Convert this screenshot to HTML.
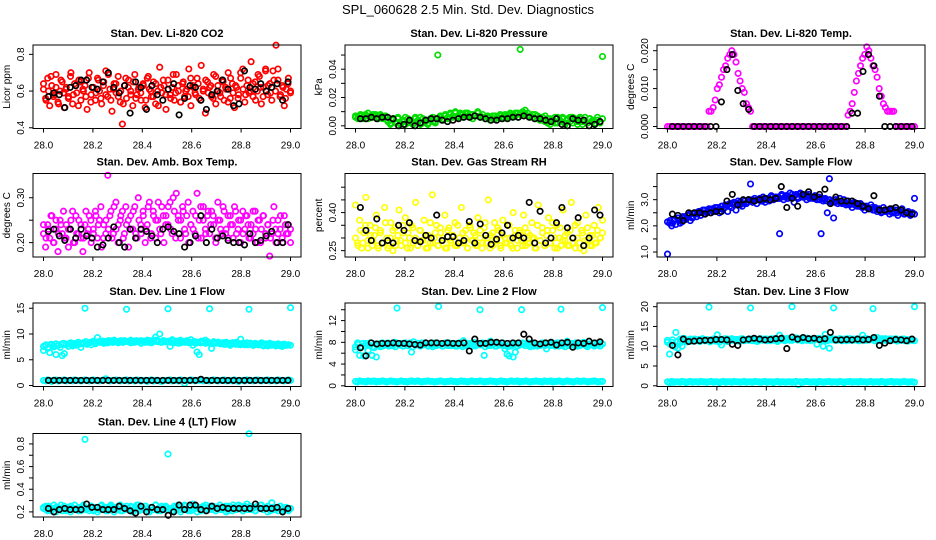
<!DOCTYPE html>
<html><head><meta charset="utf-8">
<style>
html,body{margin:0;padding:0;background:#fff;}
svg{display:block;font-family:"Liberation Sans",Arial,sans-serif;}
</style></head>
<body>
<svg id="chart" width="936" height="540" viewBox="0 0 936 540" xmlns="http://www.w3.org/2000/svg">
<text x="468" y="14" text-anchor="middle" font-size="13">SPL_060628  2.5 Min. Std. Dev. Diagnostics</text>
</svg>
<script>
// ---- data ----
const xTicks = [28.0, 28.2, 28.4, 28.6, 28.8, 29.0];
const xTickLabels = ["28.0", "28.2", "28.4", "28.6", "28.8", "29.0"];

const co2Values = [0.61,0.56,0.67,0.52,0.63,0.58,0.69,0.54,0.60,0.65,0.51,0.62,0.57,0.68,0.53,0.64,0.59,0.66,0.55,0.61,
0.63,0.50,0.70,0.58,0.62,0.55,0.67,0.60,0.53,0.65,0.71,0.57,0.61,0.49,0.64,0.59,0.68,0.54,0.42,0.63,
0.56,0.66,0.60,0.52,0.69,0.58,0.62,0.55,0.64,0.51,0.67,0.61,0.57,0.65,0.53,0.60,0.73,0.59,0.63,0.50,
0.66,0.58,0.62,0.55,0.69,0.60,0.54,0.64,0.57,0.61,0.72,0.52,0.63,0.59,0.67,0.56,0.74,0.60,0.48,0.65,
0.62,0.57,0.69,0.53,0.63,0.59,0.66,0.55,0.61,0.70,0.56,0.64,0.51,0.62,0.58,0.67,0.72,0.54,0.63,0.59,
0.76,0.57,0.65,0.60,0.68,0.53,0.62,0.71,0.58,0.64,0.55,0.66,0.85,0.72,0.57,0.63,0.52,0.61,0.67,0.59];
const co2Values2 = [0.64,0.55,0.60,0.68,0.57,0.62,0.53,0.66,0.59,0.61,0.56,0.70,0.58,0.63,0.52,0.65,0.60,0.57,0.67,0.54,
0.62,0.59,0.66,0.56,0.63,0.58,0.69,0.55,0.61,0.64,0.57,0.60,0.53,0.67,0.62,0.58,0.65,0.56,0.61,0.59,
0.63,0.55,0.68,0.60,0.57,0.64,0.52,0.62,0.66,0.58,0.61,0.56,0.69,0.59,0.63,0.54,0.65,0.60,0.57,0.67,
0.62,0.58,0.64,0.55,0.61,0.66,0.59,0.63,0.56,0.68,0.60,0.57,0.65,0.62,0.54,0.67,0.59,0.63,0.56,0.70,
0.61,0.58,0.66,0.60,0.64,0.55,0.69,0.62,0.57,0.72,0.63,0.59,0.71,0.60,0.66,0.58,0.62,0.56,0.64,0.60];
const co2Hourly = [0.57,0.59,0.58,0.51,0.62,0.63,0.66,0.66,0.62,0.61,0.65,0.70,0.62,0.59,0.63,0.48,0.65,0.62,0.50,0.63,0.58,0.55,0.61,0.64,0.47,0.56,0.63,0.62,0.55,0.50,0.58,0.60,0.66,0.61,0.52,0.53,0.71,0.62,0.61,0.64,0.60,0.62,0.64,0.55,0.65];

const presValues = [0.006,0.005,0.007,0.006,0.008,0.005,0.007,0.006,0.008,0.006,0.007,0.005,0.006,
0.003,0.001,0.004,0.002,0.005,0.001,0.003,0.006,0.002,0.004,0.001,0.005,0.003,0.006,0.002,0.004,0.001,0.005,0.003,0.002,0.050,
0.006,0.004,0.007,0.005,0.008,0.006,0.009,0.007,0.008,0.006,0.009,0.007,0.008,0.005,0.007,0.009,0.006,0.008,0.005,0.006,0.004,0.007,0.005,0.006,0.008,0.005,0.007,0.006,0.008,0.007,0.009,0.006,0.054,
0.009,0.011,0.007,0.006,0.008,0.005,0.007,0.004,0.006,0.003,0.005,0.001,0.004,0.002,0.006,0.003,0.005,0.001,0.004,0.006,0.002,0.005,0.003,0.006,0.001,0.004,0.002,0.005,0.003,0.001,0.004,0.002,0.049];
const presValues2 = [0.007,0.006,0.008,0.005,0.007,0.009,0.006,0.008,0.007,0.005,0.008,0.006,0.007,
0.004,0.002,0.005,0.003,0.006,0.002,0.004,0.001,0.005,0.003,0.002,0.006,0.004,0.001,0.005,0.003,0.002,0.004,0.006,0.003,0.005,
0.007,0.005,0.008,0.006,0.009,0.007,0.010,0.006,0.009,0.008,0.007,0.009,0.006,0.008,0.007,0.010,0.007,0.006,0.005,0.007,0.006,0.005,0.007,0.006,0.007,0.006,0.008,0.007,0.009,0.008,0.007,0.009,0.008,
0.010,0.008,0.009,0.007,0.006,0.008,0.005,0.006,0.004,0.007,0.002,0.005,0.003,0.006,0.002,0.004,0.006,0.002,0.005,0.003,0.006,0.004,0.001,0.005,0.003,0.006,0.002,0.005,0.004,0.002,0.006,0.003,0.005];
const presHourly = [0.005,0.005,0.006,0.005,0.006,0.006,0.005,0.000,0.001,0.004,0.000,0.002,0.004,0.005,0.005,0.004,0.003,0.004,0.005,0.006,0.006,0.007,0.006,0.005,0.004,0.004,0.005,0.005,0.006,0.006,0.007,0.006,0.005,0.005,0.004,0.003,0.005,0.001,0.000,0.005,0.004,0.004,0.000,0.001,0.003];

const tempValues = [0,0,0,0,0,0,0,0,0,0,0,0,0,0,0,0,0,0,0,0,
0.004,0.004,0.005,0.007,0.010,0.011,0.013,0.015,0.016,0.018,0.019,0.020,
0.019,0.017,0.014,0.012,0.010,0.009,0.006,0.005,0.004,
0,0,0,0,0,0,0,0,0,0,0,0,0,0,0,0,0,0,0,0,0,0,0,0,0,0,0,0,0,0,0,0,0,0,0,0,0,0,0,0,0,0,0,0,0,0,
0.003,0.004,0.006,0.009,0.012,0.014,0.016,0.018,0.019,0.021,
0.020,0.018,0.016,0.015,0.013,0.010,0.008,0.006,0.005,0.004,0.004,0.004,0.004,
0,0,0,0,0,0,0,0,0,0];
const tempHourly = [0,0,0,0,0,0,0,0,0,0.0065,0.015,0.019,0.0095,0.006,0.0045,0,0,0,0,0,0,0,0,0,0,0,0,0,0,0,0,0,0,0.0035,0.0035,0.0145,0.019,0.016,0.008,0,0,0,0,0,0];

const ambValues = [0.22,0.19,0.24,0.21,0.26,0.20,0.23,0.18,0.25,0.22,0.21,0.24,0.19,0.23,0.27,0.20,0.22,0.25,0.21,0.18,
0.24,0.22,0.26,0.20,0.23,0.27,0.21,0.25,0.19,0.24,0.22,0.35,0.26,0.21,0.28,0.23,0.20,0.25,0.27,0.22,
0.24,0.19,0.26,0.23,0.28,0.21,0.25,0.22,0.27,0.20,0.24,0.29,0.22,0.26,0.21,0.25,0.23,0.28,0.20,0.26,
0.24,0.29,0.22,0.27,0.31,0.25,0.21,0.28,0.23,0.26,0.20,0.24,0.27,0.22,0.31,0.25,0.21,0.28,0.23,0.26,
0.22,0.27,0.24,0.20,0.29,0.25,0.22,0.27,0.23,0.21,0.26,0.24,0.28,0.22,0.25,0.20,0.27,0.23,0.26,0.21,
0.24,0.22,0.27,0.20,0.25,0.23,0.26,0.21,0.24,0.17,0.22,0.28,0.20,0.25,0.23,0.21,0.26,0.22,0.24,0.20];
const ambValues2 = [0.24,0.21,0.23,0.26,0.20,0.25,0.22,0.24,0.27,0.21,0.23,0.25,0.20,0.26,0.22,0.24,0.21,0.27,0.23,0.25,
0.22,0.26,0.24,0.28,0.21,0.25,0.23,0.27,0.22,0.29,0.24,0.26,0.21,0.28,0.25,0.23,0.27,0.22,0.30,0.24,
0.26,0.23,0.28,0.21,0.27,0.25,0.29,0.22,0.26,0.24,0.28,0.23,0.30,0.21,0.26,0.25,0.27,0.22,0.29,0.24,
0.23,0.26,0.21,0.28,0.25,0.22,0.27,0.24,0.26,0.21,0.25,0.23,0.28,0.22,0.26,0.24,0.21,0.27,0.23,0.25,
0.22,0.26,0.24,0.21,0.27,0.23,0.25,0.20,0.26,0.22,0.24,0.21,0.25,0.23,0.22,0.26,0.20,0.24,0.22,0.23];
const ambHourly = [0.225,0.23,0.215,0.205,0.23,0.21,0.23,0.215,0.21,0.19,0.195,0.21,0.235,0.20,0.19,0.23,0.21,0.23,0.225,0.215,0.20,0.23,0.235,0.225,0.22,0.19,0.20,0.215,0.26,0.20,0.23,0.21,0.215,0.205,0.20,0.20,0.195,0.22,0.20,0.205,0.215,0.225,0.20,0.20,0.24];

const rhValues = [0.43,0.28,0.37,0.26,0.32,0.46,0.29,0.35,0.27,0.31,0.39,0.26,0.33,0.28,0.42,0.30,0.27,0.36,0.25,0.34,
0.29,0.41,0.27,0.32,0.38,0.26,0.30,0.35,0.28,0.44,0.27,0.33,0.29,0.37,0.26,0.31,0.28,0.47,0.30,0.35,
0.27,0.32,0.29,0.39,0.26,0.34,0.28,0.31,0.36,0.27,0.30,0.42,0.28,0.33,0.26,0.35,0.29,0.32,0.27,0.38,
0.30,0.26,0.34,0.28,0.45,0.31,0.27,0.36,0.29,0.33,0.26,0.37,0.30,0.28,0.35,0.27,0.40,0.31,0.26,0.33,
0.29,0.39,0.27,0.32,0.28,0.36,0.30,0.26,0.43,0.29,0.34,0.27,0.31,0.38,0.28,0.33,0.26,0.35,0.30,0.27,
0.41,0.29,0.32,0.27,0.44,0.30,0.26,0.36,0.28,0.33,0.25,0.39,0.29,0.31,0.27,0.35,0.28,0.42,0.30,0.37];
const rhValues2 = [0.30,0.27,0.33,0.28,0.35,0.26,0.31,0.29,0.34,0.27,0.32,0.28,0.36,0.26,0.30,0.33,0.27,0.31,0.29,0.35,
0.28,0.32,0.26,0.34,0.30,0.27,0.33,0.29,0.31,0.26,0.36,0.28,0.32,0.27,0.34,0.30,0.26,0.33,0.29,0.31,
0.27,0.35,0.28,0.32,0.30,0.26,0.34,0.29,0.31,0.27,0.33,0.28,0.36,0.30,0.26,0.32,0.29,0.34,0.27,0.31,
0.28,0.35,0.30,0.26,0.33,0.29,0.32,0.27,0.34,0.28,0.31,0.30,0.26,0.35,0.29,0.32,0.27,0.33,0.28,0.36,
0.30,0.26,0.34,0.29,0.31,0.27,0.33,0.28,0.35,0.30,0.26,0.32,0.29,0.34,0.27,0.31,0.28,0.33,0.30,0.32];
const rhHourly = [0.42,0.33,0.29,0.375,0.28,0.29,0.28,0.35,0.33,0.36,0.29,0.285,0.31,0.30,0.39,0.29,0.305,0.305,0.28,0.29,0.365,0.28,0.355,0.31,0.275,0.295,0.32,0.35,0.30,0.31,0.30,0.44,0.28,0.405,0.28,0.30,0.36,0.42,0.34,0.30,0.38,0.27,0.30,0.41,0.39];

const flowValues = [0.92,2.1,2.0,2.2,2.05,2.3,2.1,2.15,2.35,2.25,2.4,2.2,
2.3,2.45,2.35,2.55,2.4,2.6,2.45,2.5,2.65,2.5,2.55,2.7,
2.6,2.5,2.75,2.65,2.8,2.55,2.85,2.7,2.9,2.6,2.95,2.8,
2.75,2.95,2.85,3.0,3.6,2.9,3.05,2.85,3.0,2.95,3.1,2.9,
3.05,2.95,3.15,3.0,3.1,3.05,1.7,3.2,3.0,3.15,3.05,3.25,
3.1,2.9,3.2,3.05,3.25,3.1,3.15,3.0,3.2,3.1,3.05,3.15,
3.0,3.1,1.7,2.95,3.05,2.5,3.8,2.9,2.3,3.0,2.85,3.05,
2.9,3.0,2.8,2.95,2.85,2.7,2.9,2.8,2.75,2.85,2.7,2.6,
2.75,2.65,2.8,2.6,2.7,2.55,2.65,2.5,2.7,2.55,2.6,2.45,
2.65,2.5,2.6,2.4,2.55,2.65,2.45,2.5,2.55,2.4,2.5,3.05];
const flowValues2 = [2.15,2.2,2.1,2.25,2.3,2.2,2.35,2.3,2.4,2.45,2.35,2.5,2.45,2.55,2.5,2.6,2.55,2.6,2.65,2.6,
2.7,2.65,2.75,2.7,2.8,2.75,2.85,2.8,2.85,2.9,2.85,2.95,2.9,2.95,3.0,2.95,3.0,3.05,2.95,3.0,
3.05,3.0,3.1,3.05,3.1,3.05,3.15,3.1,3.15,3.1,3.2,3.15,3.1,3.2,3.15,3.1,3.15,3.05,3.1,3.05,
3.1,3.0,3.05,3.0,2.95,3.0,2.95,2.9,2.95,2.9,2.85,2.9,2.85,2.8,2.85,2.8,2.75,2.8,2.7,2.75,
2.7,2.65,2.7,2.6,2.65,2.6,2.55,2.6,2.55,2.6,2.5,2.55,2.5,2.55,2.5,2.45,2.5,2.45,2.5,2.45];
const flowHourly = [2.45,2.4,2.2,2.5,2.5,2.5,2.45,2.5,2.55,2.55,2.95,3.2,2.8,3.0,3.0,2.95,3.0,3.05,3.0,3.05,3.5,2.7,3.05,2.75,3.2,3.3,3.1,3.2,3.4,2.85,3.1,2.95,2.95,2.95,2.85,2.75,2.65,3.15,2.6,2.6,2.65,2.7,2.6,2.5,2.45];

const line1Values = [6.8,7.8,7.2,6.4,7.9,7.5,6.0,7.8,7.4,5.8,6.2,7.9,7.6,8.0,7.7,8.1,7.8,8.0,7.4,8.2,
15.0,8.0,8.3,7.9,8.5,8.1,9.3,8.4,8.6,8.2,8.5,8.3,8.7,8.4,8.8,8.5,8.3,8.6,8.4,8.7,
14.8,8.5,8.3,8.6,8.4,8.7,8.5,8.2,8.6,8.4,8.8,8.5,8.3,8.6,9.4,8.5,10.0,8.4,8.7,8.5,
14.9,7.6,8.9,8.3,8.6,8.2,8.8,8.5,8.4,8.7,8.3,8.9,7.8,8.5,6.5,6.0,8.6,8.4,8.8,8.5,
14.9,7.2,8.5,8.3,8.4,8.1,8.3,8.0,8.4,8.2,7.8,8.3,8.1,8.4,8.0,9.0,8.2,7.9,8.3,14.8,
8.1,7.8,8.2,8.0,7.9,8.3,7.7,8.1,7.9,8.2,7.8,8.0,7.7,8.1,7.9,7.6,8.0,7.8,7.9,15.1];
const line1Values2 = [7.6,7.9,7.4,8.0,7.7,8.1,7.8,8.0,8.2,7.9,8.1,8.3,8.0,8.2,8.4,8.1,8.3,8.5,8.2,8.4,
8.6,8.3,8.5,8.4,8.6,8.3,8.7,8.5,8.4,8.6,8.5,8.7,8.4,8.6,8.5,8.8,8.4,8.6,8.5,8.7,
8.5,8.6,8.4,8.7,8.5,8.8,8.6,8.4,8.7,8.5,8.6,8.4,8.7,8.5,8.6,8.3,8.5,8.4,8.6,8.3,
8.5,8.2,8.4,8.3,8.5,8.2,8.4,8.1,8.3,8.2,8.4,8.1,8.3,8.0,8.2,8.1,8.3,8.0,8.2,7.9,
8.1,8.0,7.9,8.2,7.8,8.0,7.9,8.1,7.8,8.0,7.7,7.9,8.0,7.8,7.9,7.7,8.0,7.8,7.9,7.8];
const line1Low = [1.0,0.9,1.1,1.0,0.8,1.0,1.1,0.9,1.0,1.0,1.1,0.9,1.0,1.0,0.9,1.1,1.0,1.0,0.9,1.0,
1.1,1.0,0.9,1.0,1.1,1.0,1.0,0.9,1.0,1.1,1.3,1.0,0.9,1.0,1.0,1.1,1.0,0.9,1.0,1.0,
1.1,0.9,1.0,1.0,0.9,1.1,1.0,0.9,1.0,1.0,0.8,1.0,1.1,0.9,1.0,1.0,0.9,0.8,1.0,1.0,
1.0,1.1,0.9,1.0,1.0,0.9,1.1,1.0,0.4,0.9,1.0,1.1,1.0,0.9,1.0,1.0,1.1,0.9,1.0,1.0,
0.9,1.0,1.1,1.0,0.9,1.0,1.0,1.1,0.9,1.0,1.0,0.9,1.1,1.0,0.8,1.0,1.0,0.9,1.1,1.0,
1.0,0.9,1.0,1.1,1.0,0.9,1.0,1.0,1.1,0.9,1.0,1.0,0.9,1.1,1.0,1.0,0.9,1.0,1.1,1.0];
const line1Hourly = [1,1,1,1,1,1,1,1,1,1,1,1,1,1,1,1,1,1,1,1,1,1,1,1,1,1,1,1,1.2,1,1,1,1,1,1,1,1,1,1,1,1,1,1,1,1];

const line2Values = [6.6,7.9,5.6,7.2,5.5,7.8,6.5,7.4,5.6,7.0,5.3,7.6,7.2,7.9,7.5,7.8,7.3,7.7,7.4,8.0,
14.3,7.5,7.8,7.3,7.9,7.4,7.7,6.2,8.1,7.5,7.8,7.4,7.9,7.6,7.8,7.3,7.7,7.5,7.9,7.4,
14.6,7.7,7.3,7.8,7.5,7.9,7.4,7.6,7.8,7.3,7.9,7.5,8.3,7.4,7.6,7.8,7.3,8.0,7.5,7.7,
14.0,7.6,5.6,7.8,7.4,8.2,7.5,7.9,7.3,7.8,7.6,7.4,6.8,5.8,5.5,7.3,5.3,6.2,7.8,7.5,
14.0,7.7,7.4,7.9,7.5,7.8,7.3,7.7,7.6,7.4,7.9,7.5,6.8,7.8,7.4,7.7,7.5,7.9,7.3,14.1,
7.6,7.8,8.2,7.4,7.7,7.5,7.9,7.3,7.8,7.6,8.0,7.4,7.7,7.5,7.8,7.3,7.6,7.9,7.4,14.4];
const line2Values2 = [7.2,7.6,7.0,7.8,7.3,7.5,7.9,7.2,7.7,7.4,7.8,7.3,7.6,7.9,7.4,7.7,7.2,7.8,7.5,7.3,
7.7,7.4,7.9,7.2,7.6,7.8,7.3,7.5,7.9,7.4,7.7,7.2,7.6,7.8,7.5,7.3,7.9,7.4,7.7,7.6,
7.3,7.8,7.5,7.2,7.9,7.6,7.4,7.7,7.3,7.8,7.5,7.9,7.2,7.6,7.4,7.8,7.3,7.7,7.5,7.9,
7.4,7.2,7.7,7.5,7.8,7.3,7.6,7.9,7.4,7.7,7.2,7.8,7.5,7.3,7.6,7.9,7.4,7.7,7.5,7.8,
7.3,7.6,7.9,7.4,7.2,7.7,7.5,7.8,7.3,7.6,7.4,7.9,7.5,7.2,7.7,7.8,7.4,7.6,7.3,7.7];
const line2Low = [0.8,0.7,0.9,0.8,0.8,0.7,0.9,0.8,0.8,0.9,0.7,0.8,0.8,0.9,0.8,0.7,0.8,0.9,0.8,0.8,
0.7,0.8,0.9,0.8,0.8,0.7,0.8,0.9,0.8,0.8,0.9,0.8,0.7,0.8,0.8,0.9,0.8,0.8,0.7,0.8,
0.8,0.9,0.8,0.7,0.8,0.8,0.9,0.8,0.8,0.7,0.8,0.9,0.8,0.8,0.7,0.8,0.9,0.8,0.8,0.8,
0.9,0.8,0.7,0.8,0.8,0.9,0.8,0.8,0.7,0.8,0.9,0.8,0.8,0.7,0.8,0.9,0.8,0.8,0.9,0.7,
0.8,0.8,0.9,0.8,0.7,0.8,0.8,0.9,0.8,0.8,0.7,0.9,0.8,0.8,0.9,0.7,0.8,0.8,0.9,0.8,
0.7,0.8,0.9,0.8,0.8,0.7,0.8,0.9,0.8,0.8,0.9,0.8,0.7,0.8,0.8,0.9,0.8,0.7,0.8,0.8];
const line2Hourly = [7.0,5.5,7.9,7.7,7.8,7.8,7.9,7.8,7.8,7.7,7.6,7.5,7.9,7.9,7.9,7.8,7.9,7.8,7.8,7.9,6.4,8.6,7.8,7.8,8.0,8.0,7.9,7.8,7.9,7.9,9.5,8.6,7.9,7.7,7.9,8.0,7.5,7.9,8.0,7.1,7.9,7.8,8.2,7.9,8.1];

const line3Values = [11.5,8.0,11.0,10.2,13.5,9.5,11.8,10.0,12.0,11.2,11.5,11.8,11.3,11.6,11.4,11.7,11.5,11.8,11.4,11.6,
19.9,11.5,11.8,11.3,12.9,11.0,10.3,11.7,11.5,11.8,11.4,11.9,11.5,11.7,11.3,11.8,11.6,11.4,11.7,11.5,
19.7,11.8,11.4,11.7,11.5,11.9,11.6,11.8,11.4,11.7,11.9,11.5,11.8,11.2,12.8,11.6,11.9,11.7,12.0,11.5,
20.0,11.8,12.1,11.6,11.9,11.7,12.0,11.5,11.8,11.4,11.7,11.9,10.5,12.0,11.6,10.0,13.0,11.8,9.5,11.6,
19.7,11.8,11.5,11.9,11.6,11.8,11.4,11.7,11.9,11.5,11.8,11.6,11.4,11.7,12.8,11.5,11.9,11.6,11.8,19.5,
11.4,12.2,11.6,11.8,11.5,11.9,11.7,11.5,11.8,11.6,11.9,11.4,11.7,11.5,11.8,11.6,11.3,11.7,11.5,20.0];
const line3Values2 = [11.0,10.5,11.6,9.8,11.2,10.8,11.9,11.4,11.1,11.7,11.3,11.8,11.5,11.2,11.9,11.4,11.7,11.1,11.6,11.8,
11.3,11.7,11.5,11.9,11.2,11.6,11.8,11.4,11.7,11.3,11.9,11.5,11.6,11.8,11.4,11.7,11.2,11.9,11.5,11.6,
11.8,11.4,11.7,11.9,11.5,11.6,12.0,11.4,11.8,11.7,11.5,11.9,11.6,11.8,11.4,11.7,12.0,11.5,11.8,11.6,
11.9,11.5,11.7,11.8,11.4,11.6,11.9,11.5,11.7,11.8,11.4,11.6,11.9,11.5,11.7,11.6,11.8,11.4,11.7,11.9,
11.5,11.6,11.8,11.4,11.7,11.5,11.9,11.6,11.4,11.8,11.5,11.7,11.3,11.6,11.8,11.4,11.7,11.5,11.6,11.4];
const line3Low = [1.0,0.8,1.1,0.9,1.0,1.0,0.9,1.1,1.0,0.8,1.0,1.1,0.9,1.0,1.0,0.9,1.1,1.0,1.0,0.9,
1.0,1.1,0.9,1.0,1.0,0.8,1.0,1.1,0.9,1.0,1.0,0.9,1.1,1.0,1.0,0.9,1.0,1.1,0.9,1.0,
1.0,0.9,1.1,1.0,1.0,0.9,1.0,1.1,0.9,1.0,1.0,0.8,1.0,1.1,0.9,1.0,1.0,0.9,1.0,1.0,
0.9,1.0,1.1,0.3,1.0,0.9,1.0,1.1,1.0,0.9,1.0,1.0,0.8,1.1,1.0,0.9,1.0,1.0,1.1,0.9,
1.0,1.0,0.9,1.1,1.0,0.8,1.0,1.0,1.1,0.9,1.0,1.0,0.9,1.1,1.0,1.0,0.9,1.0,1.1,0.9,
1.0,1.0,0.9,1.1,1.0,0.8,1.0,1.0,1.1,0.9,1.0,1.0,0.9,1.0,1.1,1.0,0.9,1.0,1.0,0.9];
const line3Hourly = [10.2,7.8,11.8,11.2,11.3,11.4,11.5,11.5,11.7,11.7,11.6,10.5,10.2,11.6,11.8,12.0,11.8,11.6,11.7,11.9,12.0,9.4,12.3,11.8,12.2,11.9,12.0,11.7,11.9,13.5,11.6,11.6,11.7,11.6,11.8,11.6,11.7,12.2,10.2,10.8,11.4,11.7,11.6,11.4,11.8];

const line4Values = [0.23,0.25,0.21,0.24,0.22,0.26,0.20,0.24,0.23,0.21,0.25,0.22,0.24,0.20,0.23,0.26,0.22,0.24,0.21,0.25,
0.84,0.23,0.21,0.25,0.22,0.24,0.20,0.23,0.26,0.22,0.24,0.21,0.25,0.23,0.20,0.24,0.22,0.26,0.21,0.23,
0.25,0.22,0.24,0.20,0.23,0.26,0.21,0.24,0.22,0.25,0.23,0.20,0.24,0.22,0.26,0.21,0.23,0.25,0.22,0.24,
0.71,0.23,0.21,0.25,0.22,0.24,0.20,0.23,0.26,0.22,0.24,0.21,0.27,0.23,0.20,0.24,0.22,0.25,0.21,0.23,
0.25,0.22,0.24,0.21,0.23,0.26,0.22,0.24,0.20,0.25,0.23,0.21,0.24,0.22,0.26,0.23,0.21,0.25,0.27,0.89,
0.22,0.24,0.21,0.25,0.23,0.26,0.22,0.24,0.20,0.23,0.28,0.22,0.24,0.21,0.25,0.23,0.22,0.24,0.21,0.23];
const line4Values2 = [0.24,0.22,0.25,0.21,0.23,0.24,0.22,0.26,0.23,0.21,0.24,0.25,0.22,0.23,0.21,0.24,0.26,0.22,0.23,0.25,
0.21,0.24,0.22,0.25,0.23,0.21,0.24,0.26,0.22,0.23,0.25,0.21,0.24,0.22,0.23,0.25,0.21,0.24,0.26,0.22,
0.23,0.25,0.21,0.24,0.22,0.26,0.23,0.21,0.24,0.25,0.22,0.23,0.21,0.24,0.26,0.22,0.23,0.25,0.21,0.24,
0.22,0.25,0.23,0.21,0.24,0.26,0.22,0.23,0.25,0.21,0.24,0.22,0.23,0.25,0.21,0.24,0.26,0.22,0.23,0.25,
0.21,0.24,0.22,0.25,0.23,0.21,0.24,0.26,0.22,0.23,0.25,0.21,0.24,0.22,0.23,0.25,0.21,0.24,0.22,0.23];
const line4Hourly = [0.23,0.20,0.22,0.23,0.22,0.22,0.22,0.27,0.24,0.24,0.22,0.22,0.22,0.25,0.23,0.21,0.19,0.25,0.20,0.24,0.22,0.22,0.17,0.20,0.26,0.22,0.26,0.26,0.22,0.21,0.25,0.23,0.24,0.23,0.23,0.23,0.23,0.23,0.27,0.23,0.23,0.23,0.24,0.20,0.23];

// ---- layout ----
const SVGNS = "http://www.w3.org/2000/svg";
const svg = document.getElementById("chart");
const colLeft = [33, 345, 657];
const rowTop = [45, 173.5, 303, 433.5];
const BOX_W = 268, BOX_H = 83.5;

const panels = [
 {title:"Stan. Dev. Li-820 CO2", ylab:"Licor ppm", c:0, r:0, ylim:[0.396,0.851], ticks:[0.4,0.6,0.8], labels:["0.4","0.6","0.8"], color:"#ff0000", series:[co2Values,co2Values2], hourly:co2Hourly},
 {title:"Stan. Dev. Li-820 Pressure", ylab:"kPa", c:1, r:0, ylim:[-0.0019,0.0571], ticks:[0,0.01,0.02,0.03,0.04,0.05], labels:["0.00","","0.02","","0.04",""], color:"#00dd00", series:[presValues,presValues2], hourly:presHourly},
 {title:"Stan. Dev. Li-820 Temp.", ylab:"degrees C", c:2, r:0, ylim:[-0.00053,0.0215], ticks:[0,0.005,0.01,0.015,0.02], labels:["0.000","","0.010","","0.020"], color:"#ff00ff", series:[tempValues], hourly:tempHourly},
 {title:"Stan. Dev. Amb. Box Temp.", ylab:"degrees C", c:0, r:1, ylim:[0.168,0.354], ticks:[0.2,0.25,0.3], labels:["0.20","","0.30"], color:"#ff00ff", series:[ambValues,ambValues2], hourly:ambHourly},
 {title:"Stan. Dev. Gas Stream RH", ylab:"percent", c:1, r:1, ylim:[0.225,0.554], ticks:[0.25,0.3,0.35,0.4,0.45,0.5], labels:["0.25","","","0.40","",""], color:"#ffff00", series:[rhValues,rhValues2], hourly:rhHourly},
 {title:"Stan. Dev. Sample Flow", ylab:"ml/min", c:2, r:1, ylim:[0.81,4.0], ticks:[1,1.5,2,2.5,3,3.5], labels:["1.0","","2.0","","3.0",""], color:"#0000ff", series:[flowValues,flowValues2], hourly:flowHourly},
 {title:"Stan. Dev. Line 1 Flow", ylab:"ml/min", c:0, r:2, ylim:[-0.19,16.02], ticks:[0,5,10,15], labels:["0","5","10","15"], color:"#00ffff", series:[line1Values,line1Values2,line1Low], hourly:line1Hourly},
 {title:"Stan. Dev. Line 2 Flow", ylab:"ml/min", c:1, r:2, ylim:[-0.13,15.24], ticks:[0,2,4,6,8,10,12,14], labels:["0","","4","","8","","12",""], color:"#00ffff", series:[line2Values,line2Values2,line2Low], hourly:line2Hourly},
 {title:"Stan. Dev. Line 3 Flow", ylab:"ml/min", c:2, r:2, ylim:[-0.18,20.93], ticks:[0,5,10,15,20], labels:["0","5","10","15","20"], color:"#00ffff", series:[line3Values,line3Values2,line3Low], hourly:line3Hourly},
 {title:"Stan. Dev. Line 4 (LT) Flow", ylab:"ml/min", c:0, r:3, ylim:[0.155,0.892], ticks:[0.2,0.3,0.4,0.5,0.6,0.7,0.8], labels:["0.2","","0.4","","0.6","","0.8"], color:"#00ffff", series:[line4Values,line4Values2], hourly:line4Hourly}
];

function mk(tag, attrs, parent){
  const e = document.createElementNS(SVGNS, tag);
  for (const k in attrs) e.setAttribute(k, attrs[k]);
  (parent||svg).appendChild(e);
  return e;
}

panels.forEach((p, pi) => {
  const L = colLeft[p.c], T = rowTop[p.r];
  const xScale = v => L + 10.5 + (v - 28) * 247;
  const yScale = v => T + BOX_H - (v - p.ylim[0]) / (p.ylim[1] - p.ylim[0]) * BOX_H;
  const slug = p.title.toLowerCase().replace(/[^a-z0-9]+/g, "-").replace(/^-|-$/g, "");
  const g = mk("g", {});
  
  

  const t = mk("text", {x: L + BOX_W/2, y: T - 8, "text-anchor":"middle", "font-size":"11", "font-weight":"bold"}, g);
  t.textContent = p.title;
  
  

  const pg = mk("g", {fill:"none", "stroke-width":"1.7"}, g);
  
  
  p.series.forEach(arr => {
    arr.forEach((v, i) => {
      const x = 28 + i / (arr.length - 1);
      const c = mk("circle", {cx: xScale(x).toFixed(1), cy: yScale(v).toFixed(1), r: 2.7, stroke: p.color}, pg);
      
      
    });
  });
  p.hourly.forEach((v, i) => {
    const x = 28.02 + i * 0.97 / (p.hourly.length - 1);
    const c = mk("circle", {cx: xScale(x).toFixed(1), cy: yScale(v).toFixed(1), r: 2.7, stroke: "#000"}, pg);
    
    
  });

  const box = mk("rect", {x: L, y: T, width: BOX_W, height: BOX_H, fill:"none", stroke:"#000", "stroke-width":"1"}, g);
  
  

  const xa = mk("g", {}, g);
  
  
  mk("line", {x1: xScale(xTicks[0]), x2: xScale(xTicks[xTicks.length-1]), y1: T+BOX_H, y2: T+BOX_H, stroke:"#000"}, xa);
  xTicks.forEach((v, i) => {
    mk("line", {x1: xScale(v), x2: xScale(v), y1: T+BOX_H, y2: T+BOX_H+4, stroke:"#000"}, xa);
    const tl = mk("text", {x: xScale(v), y: T+BOX_H+20, "text-anchor":"middle", "font-size":"10"}, xa);
    tl.textContent = xTickLabels[i];
    
    
  });

  const ya = mk("g", {}, g);
  
  
  p.ticks.forEach((v, i) => {
    const y = yScale(v);
    mk("line", {x1: L-4, x2: L, y1: y, y2: y, stroke:"#000"}, ya);
    if (p.labels[i]) {
      const tl = mk("text", {x: L-9, y: y, "text-anchor":"middle", "font-size":"10", transform:`rotate(-90 ${L-9} ${y})`}, ya);
      tl.textContent = p.labels[i];
      
      
    }
  });
  const yc = T + BOX_H/2;
  const yt = mk("text", {x: L-23, y: yc, "text-anchor":"middle", "font-size":"10", transform:`rotate(-90 ${L-23} ${yc})`}, ya);
  yt.textContent = p.ylab;
  
  
});
</script>
</body></html>
